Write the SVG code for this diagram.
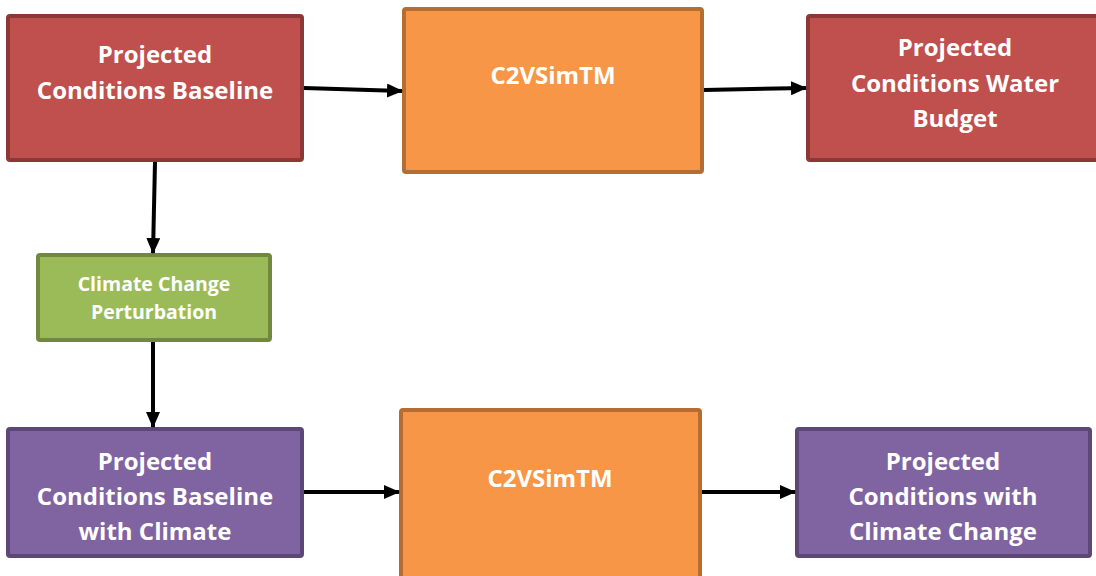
<svg xmlns="http://www.w3.org/2000/svg" width="1096" height="576" viewBox="0 0 1096 576">
<defs>
<marker id="ah" markerUnits="userSpaceOnUse" markerWidth="16" markerHeight="14" refX="15" refY="7" orient="auto">
<path d="M0,0 L16,7 L0,14 Z" fill="#000"/>
</marker>
</defs>
<style>
.red{fill:#C0504D;stroke:#8C3836;stroke-width:4}
.org{fill:#F79646;stroke:#B66D31;stroke-width:4}
.grn{fill:#9BBB59;stroke:#71893F;stroke-width:4}
.pur{fill:#8064A2;stroke:#5C4776;stroke-width:4}
.t{font-family:"Open Sans",Lato,sans-serif;font-weight:bold;fill:#fff;text-anchor:middle;font-size:24px}
.ts{font-size:19.5px}
.c line{stroke:#000;stroke-width:4;marker-end:url(#ah)}
</style>
<rect width="1096" height="576" fill="#fff"/>
<g id="n1"><rect class="red" x="8" y="16" width="294" height="144" rx="2"/>
<text class="t" x="155" y="63">Projected</text><text class="t" x="155" y="99">Conditions Baseline</text></g>
<g id="n2"><rect class="org" x="404" y="9" width="298" height="163" rx="2"/>
<text class="t" x="553" y="84">C2VSimTM</text></g>
<g id="n3"><rect class="red" x="808" y="16" width="300" height="144" rx="2"/>
<text class="t" x="955" y="56">Projected</text><text class="t" x="955" y="92">Conditions Water</text><text class="t" x="955" y="127">Budget</text></g>
<g id="n4"><rect class="grn" x="38" y="255" width="232" height="85" rx="2"/>
<text class="t ts" x="154" y="291">Climate Change</text><text class="t ts" x="154" y="319">Perturbation</text></g>
<g id="n5"><rect class="pur" x="8" y="429" width="294" height="127" rx="2"/>
<text class="t" x="155" y="470">Projected</text><text class="t" x="155" y="505">Conditions Baseline</text><text class="t" x="155" y="540">with Climate</text></g>
<g id="n6"><rect class="org" x="401" y="410" width="299" height="170" rx="2"/>
<text class="t" x="550" y="487">C2VSimTM</text></g>
<g id="n7"><rect class="pur" x="797" y="429" width="293" height="127" rx="2"/>
<text class="t" x="943" y="470">Projected</text><text class="t" x="943" y="505">Conditions with</text><text class="t" x="943" y="540">Climate Change</text></g>
<g id="connectors" class="c">
<line x1="304" y1="88" x2="402" y2="91"/>
<line x1="704" y1="90" x2="806" y2="88"/>
<line x1="155" y1="162" x2="153" y2="253"/>
<line x1="153" y1="342" x2="153" y2="427"/>
<line x1="304" y1="492" x2="399" y2="492"/>
<line x1="702" y1="492" x2="795" y2="492"/>
</g>
</svg>
